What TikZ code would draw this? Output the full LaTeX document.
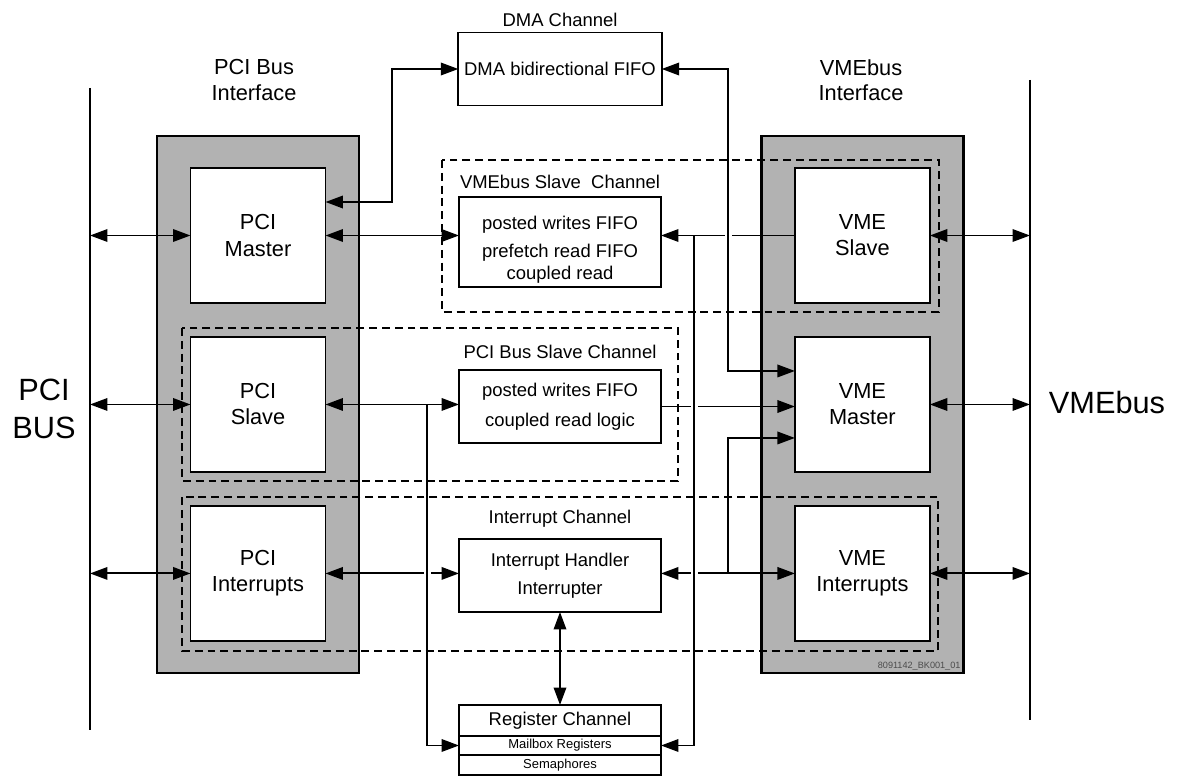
\documentclass[tikz,border=0pt]{standalone}
\usepackage{fontspec}
\setmainfont{Liberation Sans}
\usetikzlibrary{positioning, arrows.meta}
\tikzset{
    arrow/.style={draw,line width=1.1pt,-{Triangle[length=3.5mm,width=2.5mm]}},
    biarrow/.style={draw,line width=1.1pt,{Triangle[length=3.5mm,width=2.5mm]}-{Triangle[length=3.5mm,width=2.5mm]}},
    wire/.style={draw,line width=1.1pt},
    hop/.style={draw=white,line width=3.5pt},
    block/.style={shape=rectangle,draw,line width=1.1pt,fill=white,outer sep=0pt,align=center},
    unit/.style={block,minimum width=2.7cm,minimum height=2.7cm,font=\fontsize{12.4}{14.8}\selectfont},
    fifo/.style={block,minimum width=4.04cm,font=\fontsize{10.5}{12.6}\selectfont},
    row/.style={block,minimum width=4.04cm,inner sep=0pt,line width=0.8pt,font=\fontsize{7.4}{8.8}\selectfont},
    iface/.style={block,fill=black!30,line width=1.2pt,minimum width=4.04cm,minimum height=10.74cm},
    channel/.style={draw,line width=0.85pt,dash pattern=on 4.5pt off 2.8pt},
    chanlabel/.style={font=\fontsize{10.5}{12.6}\selectfont},
    title/.style={align=center,font=\fontsize{12.4}{14.3}\selectfont},
    busname/.style={align=center,font=\fontsize{17.5}{21.5}\selectfont}
}

\begin{document}
\begin{tikzpicture}[x=0.02cm, y=-0.02cm]
    % define distances
    \def\pitch{3.38cm}
    \def\colgap{12.09cm}
    \def\tap{0.67cm}
    \def\gap{0.07cm}

    % picture frame
    \useasboundingbox (0,0) rectangle (1178,777);

    % bus lines
    \coordinate (pcitop) at (90,88);
    \coordinate (pcibot) at (90,730);
    \coordinate (vmetop) at (1030,80);
    \coordinate (vmebot) at (1030,720);
    \draw [wire] (pcitop) -- (pcibot);
    \draw [wire] (vmetop) -- (vmebot);
    \node [busname] at (44,409)   (pcibus) {PCI\\BUS};
    \node [busname] at (1107,403) (vmebus) {VMEbus};

    % interface frames
    \node [iface] at (258,404.5)   (pciface) {};
    \node [iface] at (862.5,404.5) (vmeface) {};
    \node [title] at (254,80) (pcititle) {PCI Bus\\Interface};
    \node [title] at (861,80) (vmetitle) {VMEbus\\Interface};
    \node [font=\fontsize{5.2}{6}\selectfont, text=black!70, anchor=south east, inner sep=1.5pt]
        at (vmeface.south east) (drawno) {8091142\_BK001\_01};

    % channel frames
    \draw [channel] (442,160) rectangle (939,312);
    \draw [channel] (182,328) rectangle (678,481);
    \draw [channel] (182,497) rectangle (938,651);

    % units
    \node [unit] at (258,235.5)                          (pcim) {PCI\\Master};
    \node [unit, below=\pitch of pcim.center, anchor=center] (pcis) {PCI\\Slave};
    \node [unit, below=\pitch of pcis.center, anchor=center] (pcii) {PCI\\Interrupts};
    \node [unit, right=\colgap of pcim.center, anchor=center] (vmes) {VME\\Slave};
    \node [unit, right=\colgap of pcis.center, anchor=center] (vmem) {VME\\Master};
    \node [unit, right=\colgap of pcii.center, anchor=center] (vmei) {VME\\Interrupts};

    % channels
    \node [fifo, minimum height=1.46cm] at (560,69)    (dma) {DMA bidirectional FIFO};
    \node [fifo, minimum height=1.8cm]  at (560,242)   (vsf) {};
    \node [fifo, draw=none, fill=none] at ([yshift=-0.15cm]vsf.center) (vsftext)
        {posted writes FIFO\\[3.3pt] prefetch read FIFO\\ coupled read};
    \node [fifo, minimum height=1.46cm] at (560,406.5) (psf) {posted writes FIFO\\[4.4pt] coupled read logic};
    \node [fifo, minimum height=1.46cm] at (560,575.5) (irq) {Interrupt Handler\\[3.3pt] Interrupter};
    \node [fifo, minimum height=0.62cm] at (560,720.5) (reg) {Register Channel};
    \node [row, minimum height=0.38cm, below=0pt of reg]  (mbox) {Mailbox Registers};
    \node [row, minimum height=0.4cm,  below=0pt of mbox] (sema) {Semaphores};

    \node [chanlabel, above=0pt of dma] (dmalabel) {DMA Channel};
    \node [chanlabel, above=1pt of vsf] (vsflabel) {VMEbus Slave\ \ Channel};
    \node [chanlabel, above=3pt of psf] (psflabel) {PCI Bus Slave Channel};
    \node [chanlabel, above=3pt of irq] (irqlabel) {Interrupt Channel};

    % riser lines
    \coordinate (dmaleft)  at (392,0);
    \coordinate (dmaright) at (728,0);
    \coordinate (regleft)  at (427,0);
    \coordinate (regright) at (694,0);

    % bus connections
    \begin{scope}[biarrow]
        \draw (pcim.west -| pcitop) -- (pcim.west);
        \draw (pcis.west -| pcitop) -- (pcis.west);
        \draw (pcii.west -| pcitop) -- (pcii.west);
        \draw (vmes.east) -- (vmes.east -| vmetop);
        \draw (vmem.east) -- (vmem.east -| vmetop);
        \draw (vmei.east) -- (vmei.east -| vmetop);
    \end{scope}

    % horizontal connections
    \draw [biarrow] (pcim.east) -- (pcim.east -| vsf.west);
    \draw [arrow]   (vmes.west) -- (vmes.west -| vsf.east);
    \draw [biarrow] (pcis.east) -- (pcis.east -| psf.west);
    \draw [arrow]   (psf.east)  -- (psf.east -| vmem.west);
    \draw [biarrow] (pcii.east) -- (pcii.east -| irq.west);
    \draw [biarrow] (vmei.west -| irq.east) -- (vmei.west);

    % line hops
    \draw [hop] ([xshift=-\gap]vmes.west -| dmaright) -- ([xshift=\gap]vmes.west -| dmaright);
    \draw [hop] ([xshift=-\gap]psf.east -| regright)  -- ([xshift=\gap]psf.east -| regright);
    \draw [hop] ([xshift=-\gap]pcii.east -| regleft)  -- ([xshift=\gap]pcii.east -| regleft);
    \draw [hop] ([xshift=-\gap]vmei.west -| regright) -- ([xshift=\gap]vmei.west -| regright);

    % vertical connections
    \draw [biarrow] ([yshift=\tap]pcim.east) -| (dma.west -| dmaleft) -- (dma.west);
    \draw [biarrow] (dma.east) -| ([yshift=\tap]vmem.west -| dmaright) -- ([yshift=\tap]vmem.west);
    \draw [arrow]   (pcis.east -| regleft)  |- (mbox.west);
    \draw [arrow]   (vmes.west -| regright) |- (mbox.east);
    \draw [arrow]   (vmei.west -| dmaright) |- ([yshift=-\tap]vmem.west);
    \draw [biarrow] (irq.south) -- (reg.north);
\end{tikzpicture}
\end{document}
